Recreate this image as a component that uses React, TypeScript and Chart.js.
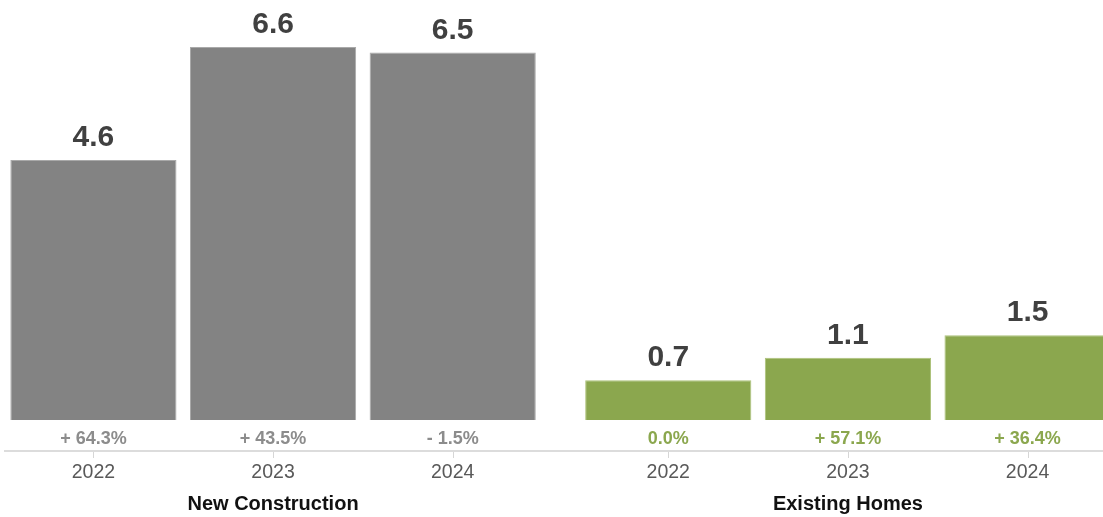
import React, { useEffect, useRef } from "react";
import { Chart, registerables } from "chart.js";

Chart.register(...registerables);

const groups = ["New Construction", "Existing Homes"];
const years = ["2022", "2023", "2024"];
const newConstruction = [4.6, 6.6, 6.5];
const existingHomes = [0.7, 1.1, 1.5];
const newConstructionChange = ["+ 64.3%", "+ 43.5%", "- 1.5%"];
const existingHomesChange = ["0.0%", "+ 57.1%", "+ 36.4%"];

const GRAY = "#838383";
const GREEN = "#8ba74e";
const FONT = '"Liberation Sans", Arial, Helvetica, sans-serif';
const GROUP_GAP = 0.2;

export default function App() {
  const canvasRef = useRef<HTMLCanvasElement | null>(null);

  useEffect(() => {
    if (!canvasRef.current) return;
    const seriesValues = [newConstruction, existingHomes];
    const seriesChanges = [newConstructionChange, existingHomesChange];
    const seriesColors = [GRAY, GREEN];
    const seriesBorders = ["#a9a9a9", "#adc27a"];
    const changeColors = ["#8c8c8c", GREEN];

    const points: { x: number; y: number }[] = [];
    const colors: string[] = [];
    const borders: string[] = [];
    const changes: string[] = [];
    const changeCol: string[] = [];
    const yearLbl: string[] = [];
    seriesValues.forEach((vals, g) => {
      vals.forEach((v, i) => {
        points.push({ x: g * (years.length + GROUP_GAP) + i, y: v });
        colors.push(seriesColors[g]);
        borders.push(seriesBorders[g]);
        changes.push(seriesChanges[g][i]);
        changeCol.push(changeColors[g]);
        yearLbl.push(years[i]);
      });
    });

    const labelsPlugin = {
      id: "labelsPlugin",
      afterDatasetsDraw(chart: any) {
        const ctx = chart.ctx;
        const meta = chart.getDatasetMeta(0);
        const area = chart.chartArea;
        ctx.save();
        ctx.textAlign = "center";
        ctx.textBaseline = "alphabetic";
        // value labels
        ctx.font = `bold 30px ${FONT}`;
        ctx.fillStyle = "#404040";
        meta.data.forEach((bar: any, i: number) => {
          ctx.fillText(points[i].y.toFixed(1), bar.x, bar.y - 14);
        });
        // change labels
        ctx.font = `bold 18px ${FONT}`;
        meta.data.forEach((bar: any, i: number) => {
          ctx.fillStyle = changeCol[i];
          ctx.fillText(changes[i], bar.x, area.bottom - 7);
        });
        // axis line
        ctx.strokeStyle = "#dcdcdc";
        ctx.lineWidth = 2;
        ctx.beginPath();
        ctx.moveTo(4, area.bottom);
        ctx.lineTo(area.right, area.bottom);
        ctx.stroke();
        // tick marks
        ctx.lineWidth = 1;
        ctx.strokeStyle = "#d6d6d6";
        meta.data.forEach((bar: any) => {
          const x = Math.round(bar.x) + 0.5;
          ctx.beginPath();
          ctx.moveTo(x, area.bottom + 1);
          ctx.lineTo(x, area.bottom + 7);
          ctx.stroke();
        });
        // year labels
        ctx.font = `19.5px ${FONT}`;
        ctx.fillStyle = "#595959";
        meta.data.forEach((bar: any, i: number) => {
          ctx.fillText(yearLbl[i], bar.x, area.bottom + 27);
        });
        // group labels
        ctx.font = `bold 20px ${FONT}`;
        ctx.fillStyle = "#111111";
        groups.forEach((name, g) => {
          const mid = meta.data[g * years.length + 1];
          ctx.fillText(name, mid.x, area.bottom + 59);
        });
        ctx.restore();
      },
    };

    const chart = new Chart(canvasRef.current, {
      type: "bar",
      data: {
        datasets: [
          {
            data: points,
            backgroundColor: colors,
            borderColor: borders,
            borderWidth: { top: 1, left: 1, right: 1, bottom: 0 },
            borderSkipped: false,
            barPercentage: 0.925,
            categoryPercentage: 1,
          },
        ],
      },
      options: {
        animation: false,
        responsive: true,
        maintainAspectRatio: false,
        layout: { padding: { left: 0, right: 0, top: 0, bottom: 66 } },
        plugins: { legend: { display: false }, tooltip: { enabled: false } },
        scales: {
          x: {
            type: "linear",
            display: false,
            offset: false,
            min: -0.52,
            max: 5.62,
            afterBuildTicks: (axis: any) => {
              axis.ticks = points.map((p) => ({ value: p.x }));
            },
          },
          y: { display: false, min: -0.55, max: 7.43 },
        },
      },
      plugins: [labelsPlugin],
    } as any);
    return () => chart.destroy();
  }, []);

  return (
    <div style={{ position: "fixed", left: 0, top: 0, width: 1103, height: 517, background: "#fff" }}>
      <canvas ref={canvasRef} />
    </div>
  );
}
